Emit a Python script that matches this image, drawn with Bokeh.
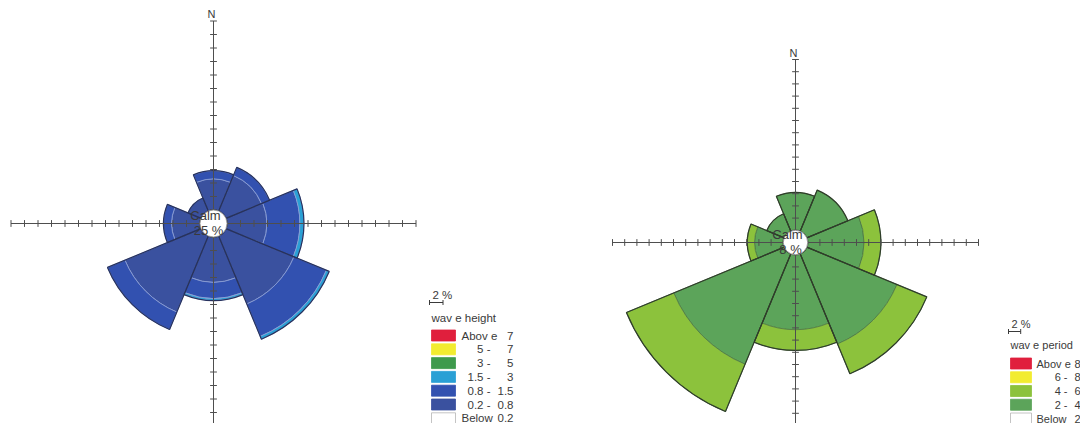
import math
from bokeh.plotting import figure
from bokeh.layouts import row
from bokeh.models import Range1d, ColumnDataSource
from bokeh.embed import file_html
from bokeh.resources import INLINE
from bokeh.core.properties import value

# ---------------- data ----------------
directions = ["N", "NE", "E", "SE", "S", "SW", "W", "NW"]
bearings = [0, 45, 90, 135, 180, 225, 270, 315]

# wave height: frequency (%) per direction and class
height_02_08 = [4.6, 5.7, 5.9, 10.9, 6.7, 12.2, 4.2, 2.1]
height_08_15 = [1.2, 1.3, 4.9, 5.2, 2.4, 2.8, 1.2, 0.0]
height_15_3 = [0.0, 0.0, 0.6, 0.45, 0.3, 0.0, 0.0, 0.0]
height_calm = "25 %"
height_lo = ["Abov e", "5", "3", "1.5", "0.8", "0.2", "Below"]
height_hi = ["7", "7", "5", "3", "1.5", "0.8", "0.2"]

# wave period: frequency (%) per direction and class
period_2_4 = [6.2, 7.3, 9.2, 16.0, 12.3, 19.6, 4.7, 3.1]
period_4_6 = [0.0, 0.0, 2.8, 5.3, 3.4, 8.4, 1.2, 0.0]
period_calm = "8 %"
period_lo = ["Abov e", "6", "4", "2", "Below"]
period_hi = ["8", "8", "6", "4", "2"]

# ---------------- style ----------------
W, H = 540, 423
FONT = "Liberation Sans"
SECTOR = 45
TICK_STEP = 2      # percent per tick
TICK_COUNT = 15
CALM_R = 2         # calm circle radius, percent units
AXIS_COLOR = "#4e4e4e"
TEXT_COLOR = "#3a3a3a"

height_colors = ["#e01f3d", "#f2ec30", "#3e9a4c", "#2aa0d5", "#3251b0", "#3a519f", "#ffffff"]
period_colors = ["#e01f3d", "#f2ec30", "#8cc23c", "#5ca45a", "#ffffff"]


def make_rose(cx, cy, k, bands, band_colors, sep_color, edge_color, calm_text,
              title, lo, hi, legend_colors, lg):
    X = lambda u: (u - cx) / k
    Y = lambda v: (cy - v) / k
    fs = lg["fs"]
    p = figure(width=W, height=H, x_range=Range1d(X(0), X(W)), y_range=Range1d(Y(H), Y(0)),
               output_backend="svg", toolbar_location=None, min_border=0,
               x_axis_type=None, y_axis_type=None, outline_line_color=None,
               background_fill_color="white", border_fill_color="white")

    start = [math.radians(90 - b - SECTOR / 2) for b in bearings]
    end = [math.radians(90 - b + SECTOR / 2) for b in bearings]
    base = [CALM_R] * len(bearings)
    for vals, col in zip(bands, band_colors):
        outer = [a + v for a, v in zip(base, vals)]
        keep = [i for i, v in enumerate(vals) if v > 0]
        src = ColumnDataSource(dict(ir=[base[i] for i in keep], orad=[outer[i] for i in keep],
                                    s=[start[i] for i in keep], e=[end[i] for i in keep]))
        p.annular_wedge(x=0, y=0, inner_radius="ir", outer_radius="orad", start_angle="s",
                        end_angle="e", source=src, fill_color=col, line_color=sep_color,
                        line_width=0.8)
        base = outer
    p.annular_wedge(x=0, y=0, inner_radius=CALM_R, outer_radius=base, start_angle=start,
                    end_angle=end, fill_color=None, line_color=edge_color, line_width=1.2)

    # cross axes with ticks
    lim = TICK_STEP * TICK_COUNT
    p.segment(x0=[-lim, 0], y0=[0, -lim], x1=[lim, 0], y1=[0, lim],
              line_color=AXIS_COLOR, line_width=1)
    ticks = [t * TICK_STEP for t in range(-TICK_COUNT, TICK_COUNT + 1) if t != 0]
    h = 3.4 / k
    n = len(ticks)
    p.segment(x0=ticks, y0=[-h] * n, x1=ticks, y1=[h] * n, line_color=AXIS_COLOR, line_width=1)
    p.segment(x0=[-h] * n, y0=ticks, x1=[h] * n, y1=ticks, line_color=AXIS_COLOR, line_width=1)
    p.text(x=[-2 / k], y=[lim + 1 / k], text=["N"], text_align="center", text_baseline="bottom",
           text_font=value(FONT), text_font_size="11px", text_color=TEXT_COLOR)

    # calm circle
    p.circle(x=0, y=0, radius=CALM_R, fill_color="white", line_color="#8a8a8a", line_width=0.8)
    p.text(x=[-8 / k, -5 / k], y=[8 / k, -7 / k], text=["Calm", calm_text], text_align="center",
           text_baseline="middle", text_font=value(FONT), text_font_size="13px",
           text_color=TEXT_COLOR)

    # legend: scale bar
    lx = lg["x"]
    p.text(x=[X(lx + 1)], y=[Y(lg["scale_y"])], text=["2 %"], text_align="left",
           text_baseline="middle", text_font=value(FONT), text_font_size=fs,
           text_color=TEXT_COLOR)
    by = Y(lg["scale_y"] + 8)
    bx0 = X(lx - 2)
    bx1 = bx0 + TICK_STEP
    cap = 2.5 / k
    p.segment(x0=[bx0, bx0, bx1], y0=[by, by - cap, by - cap], x1=[bx1, bx0, bx1],
              y1=[by, by + cap, by + cap], line_color=TEXT_COLOR, line_width=1)
    p.text(x=[X(lx)], y=[Y(lg["title_y"])], text=[title], text_align="left",
           text_baseline="middle", text_font=value(FONT), text_font_size=fs,
           text_color=TEXT_COLOR)

    # legend rows
    bw = lg["box_w"]
    for i, (a, b, col) in enumerate(zip(lo, hi, legend_colors)):
        yc = lg["top"] + i * lg["pitch"]
        p.rect(x=[X(lx + bw / 2)], y=[Y(yc)], width=bw / k, height=11 / k, fill_color=col,
               line_color="#b5b5b5" if col == "#ffffff" else col, line_width=0.8)
        if a in ("Abov e", "Below"):
            p.text(x=[X(lx + bw + lg["gap"])], y=[Y(yc)], text=[a], text_align="left",
                   text_baseline="middle", text_font=value(FONT), text_font_size=fs,
                   text_color=TEXT_COLOR)
        else:
            p.text(x=[X(lg["dash_r"])], y=[Y(yc)], text=[a + " -"], text_align="right",
                   text_baseline="middle", text_font=value(FONT), text_font_size=fs,
                   text_color=TEXT_COLOR)
        p.text(x=[X(lg["right"])], y=[Y(yc)], text=[b], text_align="right",
               text_baseline="middle", text_font=value(FONT), text_font_size=fs,
               text_color=TEXT_COLOR)
    return p


left = make_rose(
    213, 223, 6.75,
    [height_02_08, height_08_15, height_15_3],
    [height_colors[5], height_colors[4], height_colors[3]],
    "#8d9fd4", "#27325e", height_calm, "wav e height",
    height_lo, height_hi, height_colors,
    dict(x=431, scale_y=294, title_y=317, top=335, pitch=13.8, box_w=24, gap=6,
         dash_r=490, right=513, fs="11.5px"),
)

right = make_rose(
    255, 242, 6.1,
    [period_2_4, period_4_6],
    [period_colors[3], period_colors[2]],
    "#4f7a45", "#2f3d2a", period_calm, "wav e period",
    period_lo, period_hi, period_colors,
    dict(x=470, scale_y=323, title_y=344, top=363, pitch=13.75, box_w=21, gap=5,
         dash_r=527, right=540, fs="11px"),
)

layout = row(left, right, spacing=0)
open("out.html", "w").write(file_html(layout, INLINE))
